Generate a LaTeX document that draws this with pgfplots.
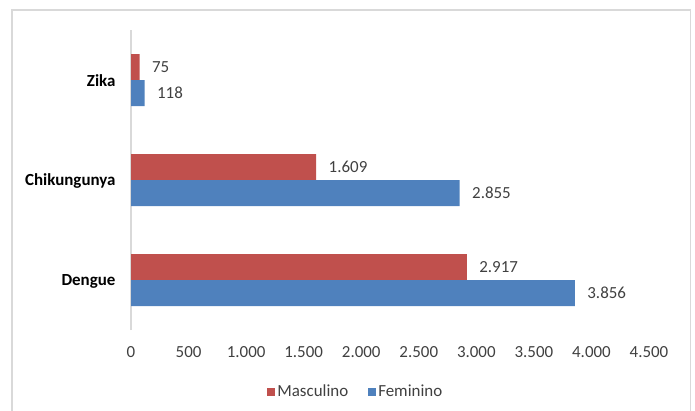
\documentclass[border=0pt]{standalone}
\usepackage{pgfplots}
\pgfplotsset{compat=1.18}
\usepackage{fontspec}
\setmainfont{Carlito}
\definecolor{mred}{HTML}{C0504D}
\definecolor{fblue}{HTML}{4F81BD}
\definecolor{axgray}{HTML}{D9D9D9}
\definecolor{txt}{HTML}{404040}
\newcommand{\lab}{\fontsize{17}{19}\selectfont}
\begin{document}
\begin{tikzpicture}[x=1bp,y=1bp]
\path[use as bounding box] (0,0) rectangle (695,410);
\draw[axgray, line width=1.5bp] (12,-10) rectangle (690.5,400);
\begin{axis}[
  at={(131bp,80bp)}, anchor=south west,
  scale only axis, width=518bp, height=300bp,
  xbar, bar width=26bp,
  xmin=0, xmax=4500, ymin=-0.5, ymax=2.5,
  xtick={0,500,...,4500},
  ytick={0,1,2}, yticklabels={Dengue,Chikungunya,Zika},
  axis line style={draw=none},
  major tick length=0pt,
  extra x ticks={0}, extra x tick labels={},
  extra x tick style={grid=major, major grid style={axgray, line width=1.5bp}},
  /pgf/number format/.cd, 1000 sep={.}, assume math mode=true,
  /pgfplots/.cd,
  x tick label style={font=\lab, text=txt, yshift=-13bp},
  y tick label style={font=\lab\bfseries, text=black, xshift=-12bp, yshift=-1bp},
  nodes near coords, nodes near coords align=horizontal,
  every node near coord/.append style={font=\lab, text=txt, anchor=west, xshift=9bp},
  legend style={at={(axis description cs:0.434,-0.205)}, anchor=center, draw=none,
    legend columns=2, font=\lab, text=txt,
    /tikz/every even column/.append style={column sep=18bp}},
  legend image code/.code={\fill[#1] (0bp,-4bp) rectangle (8bp,4bp);},
]
\addplot[fill=mred, draw=none, bar shift=13bp] coordinates {(2917,0) (1609,1) (75,2)};
\addplot[fill=fblue, draw=none, bar shift=-13bp] coordinates {(3856,0) (2855,1) (118,2)};
\legend{Masculino, Feminino}
\end{axis}
\end{tikzpicture}
\end{document}
